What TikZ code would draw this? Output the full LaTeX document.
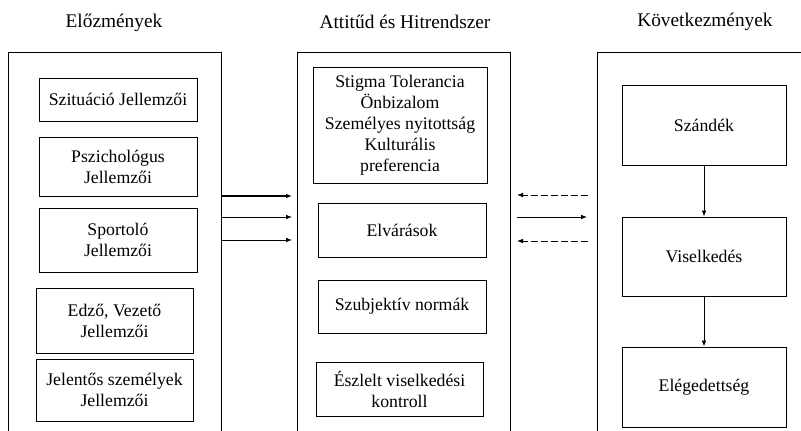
\documentclass[tikz,border=0pt]{standalone}
\usepackage{fontspec}
\setmainfont{Liberation Serif}
\usetikzlibrary{arrows.meta}

\tikzset{
  frame/.style={draw, line width=0.8pt, anchor=north west, minimum width=159.75pt, minimum height=320pt, inner sep=0pt},
  box/.style={draw, line width=0.7pt, align=center, inner sep=0pt, font=\fontsize{13.3}{15.8}\selectfont},
  title/.style={font=\fontsize{14.5}{17}\selectfont},
  arr/.style={-{Latex[length=4.5pt, width=3.5pt]}, line width=0.6pt},
  darr/.style={arr, dash pattern=on 5pt off 2.5pt}
}

\begin{document}
\begin{tikzpicture}[x=0.75pt, y=-0.75pt]
    \useasboundingbox (0,0) rectangle (801,430);
    \clip (0,0) rectangle (801,430);

    % Titles
    \node[title] (tleft) at (114, 23) {Előzmények};
    \node[title] (tmid) at (405, 22) {Attitűd és Hitrendszer};
    \node[title] (tright) at (705, 22) {Következmények};

    % Frames
    \node[frame] (lf) at (8, 52) {};
    \node[frame] (mf) at (297, 52) {};
    \node[frame] (rf) at (597, 52) {};

    % Antecedents
    \node[box, minimum width=118.5pt, minimum height=32.3pt] (sit) at (118, 99.5) {Szituáció Jellemzői};
    \node[box, minimum width=118.5pt, minimum height=44.3pt] (psz) at (118, 166.5) {Pszichológus\\Jellemzői};
    \node[box, minimum width=118.5pt, minimum height=48pt] (spo) at (118, 240) {Sportoló\\Jellemzői};
    \node[box, minimum width=117.8pt, minimum height=48.8pt] (edz) at (114.5, 320.5) {Edző, Vezető\\Jellemzői};
    \node[box, minimum width=117.8pt, minimum height=46.5pt] (jel) at (114.5, 390) {Jelentős személyek\\Jellemzői};

    % Attitudes and beliefs
    \node[box, minimum width=130.5pt, minimum height=87pt] (sti) at (400, 125) {Stigma Tolerancia\\Önbizalom\\Személyes nyitottság\\Kulturális\\preferencia};
    \node[box, minimum width=126pt, minimum height=40.5pt] (elv) at (402, 230) {Elvárások};
    \node[box, minimum width=126pt, minimum height=39.8pt] (szu) at (402, 306.5) {Szubjektív normák};
    \node[box, minimum width=125.3pt, minimum height=40.5pt] (esz) at (399.5, 389) {Észlelt viselkedési\\kontroll};

    % Consequences
    \node[box, minimum width=123pt, minimum height=60pt] (szd) at (704, 125) {Szándék};
    \node[box, minimum width=123pt, minimum height=59.3pt] (vis) at (704, 256.5) {Viselkedés};
    \node[box, minimum width=123pt, minimum height=60pt] (ele) at (704, 387) {Elégedettség};

    \draw[arr] (szd) -- (vis);
    \draw[arr] (vis) -- (ele);

    % Arrows between frames
    \coordinate (a1) at (222, 196); \coordinate (b1) at (292, 196);
    \coordinate (a2) at (222, 217); \coordinate (b2) at (292, 217);
    \coordinate (a3) at (222, 240); \coordinate (b3) at (292, 240);
    \draw[arr, line width=0.9pt] (a1) -- (b1);
    \draw[arr] (a2) -- (b2);
    \draw[arr] (a3) -- (b3);

    \coordinate (c1) at (588, 195); \coordinate (d1) at (517, 195);
    \coordinate (c2) at (517, 217); \coordinate (d2) at (587, 217);
    \coordinate (c3) at (588, 241); \coordinate (d3) at (517, 241);
    \draw[darr] (c1) -- (d1);
    \draw[arr] (c2) -- (d2);
    \draw[darr] (c3) -- (d3);
\end{tikzpicture}
\end{document}
